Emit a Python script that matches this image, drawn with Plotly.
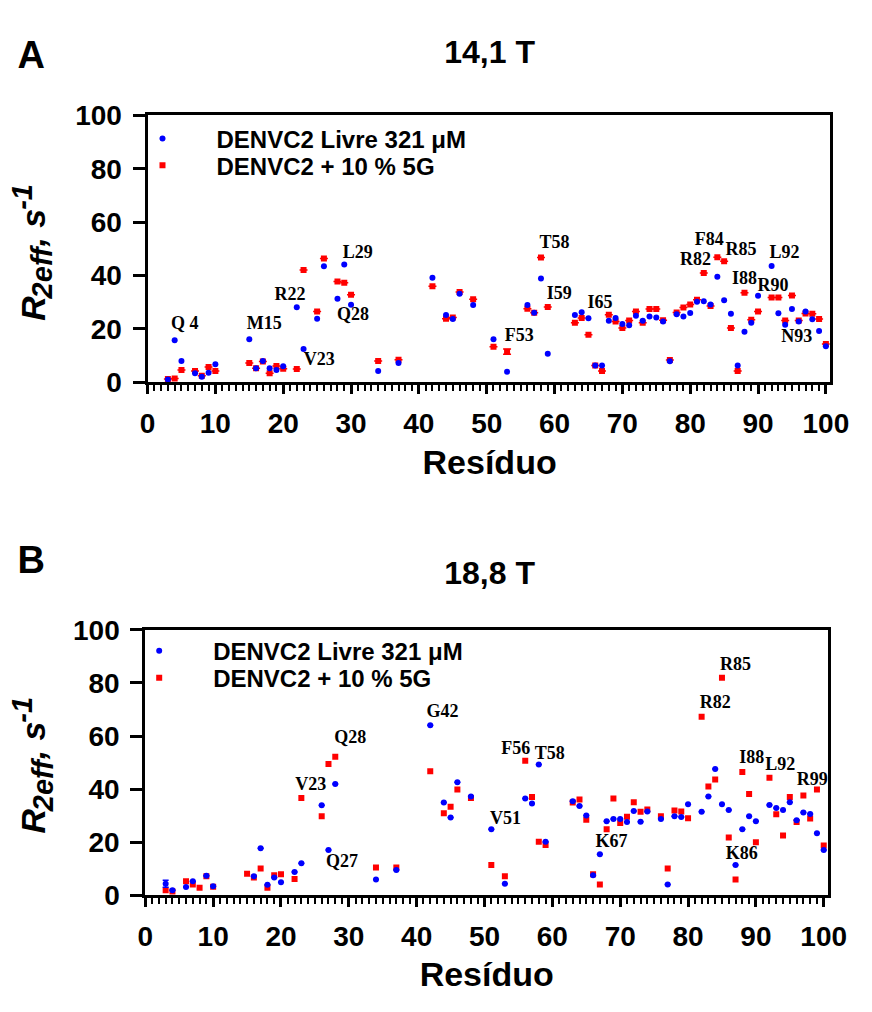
import plotly.graph_objects as go

# ---------------- Panel A (14,1 T) ----------------
res_A = [3, 4, 5, 7, 8, 9, 10, 15, 16, 17, 18, 19, 20, 22, 23, 25, 26, 28, 29, 30,
         34, 37, 42, 44, 45, 46, 48, 51, 53, 56, 57, 58, 59, 63, 64, 65, 66, 67, 68, 69,
         70, 71, 72, 73, 74, 75, 76, 77, 78, 79, 80, 81, 82, 83, 84, 85, 86, 87, 88, 89,
         90, 92, 93, 94, 95, 96, 97, 98, 99, 100]
livre_A = [1.1, 15.8, 8.0, 3.4, 2.1, 3.6, 6.8, 16.2, 5.3, 8.0, 5.3, 4.6, 6.0, 28.1, 12.5, 23.8, 43.5, 31.3, 44.1, 29.1,
           4.3, 7.3, 39.2, 25.2, 23.7, 33.2, 29.0, 16.2, 4.0, 29.0, 26.1, 38.9, 10.7, 25.2, 26.3, 24.0, 6.3, 6.3, 23.1, 24.1,
           21.9, 21.4, 25.0, 23.1, 24.7, 24.3, 22.8, 7.9, 25.5, 24.7, 26.0, 30.2, 30.4, 29.2, 39.6, 30.8, 25.7, 6.3, 19.0, 22.3,
           32.4, 43.6, 25.9, 21.6, 27.5, 22.8, 26.5, 23.6, 19.2, 13.5]
g5_A = [1.3, 1.5, 4.6, 4.3, 2.5, 5.8, 4.3, 7.3, 5.3, 7.8, 3.4, 6.1, 5.1, 5.0, 42.1, 26.5, 46.4, 37.8, 37.3, 32.8,
        8.0, 8.5, 36.0, 23.8, 24.3, 33.8, 31.1, 13.3, 11.5, 27.6, 26.1, 46.8, 28.2, 22.3, 24.1, 17.8, 6.3, 4.3, 25.3, 22.8,
        20.4, 23.2, 26.5, 22.3, 27.5, 27.5, 23.3, 8.4, 26.2, 28.0, 29.2, 30.9, 41.0, 28.6, 46.9, 45.4, 20.4, 4.3, 33.6, 23.5,
        26.5, 31.8, 31.8, 23.2, 32.5, 23.2, 25.8, 25.7, 23.7, 14.4]
g5_A_err = [None] * len(res_A)
g5_A_err[res_A.index(53)] = 1.0

labels_A = ["Q 4", "M15", "R22", "V23", "L29", "Q28", "F53", "T58", "I59", "I65",
            "F84", "R85", "R82", "I88", "R90", "L92", "N93"]
labels_A_x = [5.5, 17.2, 21.0, 25.3, 31.0, 30.3, 54.8, 60.0, 60.7, 66.7,
              82.8, 87.5, 80.8, 88.0, 92.2, 93.9, 95.7]
labels_A_y = [21.5, 21.5, 32.5, 8.1, 48.4, 25.2, 17.3, 52.0, 32.8, 29.5,
              53.0, 49.3, 45.7, 38.6, 35.9, 48.4, 16.7]

# ---------------- Panel B (18,8 T) ----------------
res_B = [3, 4, 6, 7, 8, 9, 10, 15, 16, 17, 18, 19, 20, 22, 23, 26, 27, 28,
         34, 37, 42, 44, 45, 46, 48, 51, 53, 56, 57, 58, 59, 63, 64, 65, 66, 67, 68, 69,
         70, 71, 72, 73, 74, 76, 77, 78, 79, 80, 82, 83, 84, 85, 86, 87, 88, 89,
         90, 92, 93, 94, 95, 96, 97, 98, 99, 100]
livre_B = [4.4, 2.0, 3.2, 5.4, None, 7.4, 3.5, None, 7.2, 17.8, 4.0, 6.8, 5.0, 8.8, 12.1, 34.0, 17.1, 42.0,
           6.0, 9.6, 64.1, 35.0, 29.4, 42.6, 37.3, 24.9, 4.4, 36.5, 34.6, 49.3, 20.2, 35.5, 33.7, 30.1, 7.6, 15.5, 27.9, 28.8,
           28.8, 27.7, 31.8, 27.8, 31.6, 28.8, 4.1, 29.8, 29.5, 34.3, 31.5, 37.3, 47.6, 34.3, 32.2, 11.5, 24.9, 29.8,
           27.9, 34.1, 32.9, 32.2, 35.1, 28.3, 31.2, 30.7, 23.4, 17.1]
g5_B = [2.0, 1.5, 5.4, 4.1, 2.9, 7.2, 3.3, 8.2, 6.8, 10.2, 2.9, 7.6, 8.0, 6.2, 36.7, 29.8, 49.5, 52.2,
        10.5, 10.5, 46.8, 31.0, 33.4, 39.9, 36.7, 11.5, 7.2, 50.7, 37.1, 20.2, 19.0, 35.0, 36.1, 28.5, 8.0, 4.1, 24.9, 36.5,
        27.3, 29.6, 35.1, 31.5, 32.4, 29.8, 10.2, 32.0, 31.6, 29.1, 67.3, 41.0, 43.7, 82.0, 21.8, 6.0, 46.5, 38.2,
        20.0, 44.3, 30.6, 22.6, 37.1, 27.7, 37.6, 29.0, 39.9, 18.8]
livre_B_err = [None] * len(res_B)
livre_B_err[res_B.index(3)] = 1.3

labels_B = ["Q28", "V23", "Q27", "G42", "F56", "T58", "V51", "K67",
            "R85", "R82", "I88", "L92", "R99", "K86"]
labels_B_x = [30.2, 24.4, 29.0, 43.8, 54.6, 59.6, 53.1, 68.7,
              87.0, 84.0, 89.4, 93.6, 98.3, 87.9]
labels_B_y = [59.0, 41.3, 12.4, 68.8, 55.1, 52.9, 28.5, 20.0,
              86.5, 72.2, 51.7, 49.0, 43.2, 15.4]

name_livre = "DENVC2 Livre 321 \u03bcM"
name_g5 = "DENVC2 + 10 % 5G"
panel_letters = ["A", "B"]
panel_titles = ["14,1 T", "18,8 T"]
x_title = "Resíduo"
# y title pieces: R, subscript 2eff, ", s", superscript -1
y_title_parts = ["R", "2eff", ", s", "-1"]

W, H = 872, 1012
SANS = "Liberation Sans, Arial, sans-serif"
SERIF = "Liberation Serif, Times New Roman, serif"
BLUE = "#0000FF"
RED = "#FF0000"

fig = go.Figure()

# Panel A traces (red first so blue is drawn on top)
fig.add_trace(go.Scatter(
    x=res_A, y=g5_A, mode="markers", name=name_g5,
    marker=dict(symbol="square", size=6, color=RED),
    error_y=dict(type="data", array=g5_A_err, visible=True, color=RED, thickness=1.5, width=4),
    xaxis="x", yaxis="y", legend="legend2"))
fig.add_trace(go.Scatter(
    x=res_A, y=livre_A, mode="markers", name=name_livre,
    marker=dict(symbol="circle", size=6, color=BLUE),
    xaxis="x", yaxis="y", legend="legend"))
fig.add_trace(go.Scatter(
    x=labels_A_x, y=labels_A_y, mode="text", text=labels_A,
    textfont=dict(family=SERIF, size=18, color="black", weight="bold"),
    xaxis="x", yaxis="y", showlegend=False, hoverinfo="skip"))

# Panel B traces
fig.add_trace(go.Scatter(
    x=res_B, y=g5_B, mode="markers", name=name_g5,
    marker=dict(symbol="square", size=6, color=RED),
    xaxis="x2", yaxis="y2", legend="legend4"))
fig.add_trace(go.Scatter(
    x=res_B, y=livre_B, mode="markers", name=name_livre,
    marker=dict(symbol="circle", size=6, color=BLUE),
    error_y=dict(type="data", array=livre_B_err, visible=True, color=BLUE, thickness=1.5, width=3),
    xaxis="x2", yaxis="y2", legend="legend3"))
fig.add_trace(go.Scatter(
    x=labels_B_x, y=labels_B_y, mode="text", text=labels_B,
    textfont=dict(family=SERIF, size=18, color="black", weight="bold"),
    xaxis="x2", yaxis="y2", showlegend=False, hoverinfo="skip"))

# Page-level texts (panel letters, titles, x titles) on an invisible full-page pixel axis
fig.add_trace(go.Scatter(
    x=[24, 24], y=[45, 566], mode="text", text=panel_letters,
    textfont=dict(family=SANS, size=38, color="black", weight="bold"),
    xaxis="x3", yaxis="y3", showlegend=False, hoverinfo="skip", cliponaxis=False))
fig.add_trace(go.Scatter(
    x=[497, 497], y=[41, 579], mode="text", text=panel_titles,
    textfont=dict(family=SANS, size=32, color="black", weight="bold"),
    xaxis="x3", yaxis="y3", showlegend=False, hoverinfo="skip", cliponaxis=False))
fig.add_trace(go.Scatter(
    x=[497, 494], y=[465, 993], mode="text", text=[x_title, x_title],
    textfont=dict(family=SANS, size=34, color="black", weight="bold"),
    xaxis="x3", yaxis="y3", showlegend=False, hoverinfo="skip", cliponaxis=False))

tickfont = dict(family=SANS, size=28, color="black", weight="bold")
xcommon = dict(showline=True, linewidth=3, linecolor="black", mirror=True,
               ticks="outside", ticklen=9, tickwidth=3, tickcolor="black",
               tick0=0, dtick=10, tickfont=tickfont, showgrid=False, zeroline=False,
               ticklabelstandoff=5,
               minor=dict(ticks="outside", ticklen=6, tickwidth=2, tickcolor="black", dtick=1, showgrid=False),
               fixedrange=True)
ycommon = dict(showline=True, linewidth=3, linecolor="black", mirror=True,
               ticks="outside", ticklen=12, tickwidth=3, tickcolor="black",
               tick0=0, dtick=20, range=[0, 100], tickfont=tickfont, showgrid=False,
               zeroline=False, ticklabelstandoff=5, fixedrange=True)


def px(xp):
    return xp / W


def py(yp):
    return 1 - yp / H


legend_common = dict(font=dict(family=SANS, size=24, color="black", weight="bold"),
                     bgcolor="rgba(0,0,0,0)", borderwidth=0, itemwidth=98,
                     xanchor="left", yanchor="top", itemclick=False, itemdoubleclick=False)

fig.update_layout(
    width=W, height=H, margin=dict(l=0, r=0, t=0, b=0),
    paper_bgcolor="white", plot_bgcolor="rgba(0,0,0,0)",
    xaxis=dict(domain=[px(144), px(848)], range=[0, 100.57], anchor="y", **xcommon),
    yaxis=dict(domain=[py(379), py(103.5)], anchor="x", **ycommon),
    xaxis2=dict(domain=[px(141.7), px(846.7)], range=[0, 100.7], anchor="y2", **xcommon),
    yaxis2=dict(domain=[py(908.3), py(634.3)], anchor="x2", **ycommon),
    xaxis3=dict(domain=[0, 1], range=[0, W], visible=False, anchor="y3", fixedrange=True),
    yaxis3=dict(domain=[0, 1], range=[H, 0], visible=False, anchor="x3", fixedrange=True),
    legend=dict(x=px(103.7), y=py(104.7), **legend_common),
    legend2=dict(x=px(103.7), y=py(132.3), **legend_common),
    legend3=dict(x=px(100.3), y=py(633), **legend_common),
    legend4=dict(x=px(100.3), y=py(661), **legend_common),
    showlegend=True,
)

# Rotated y-axis titles built from pieces (main size 34, sub/sup size 29)
F_MAIN, F_SMALL = 34, 29
part_sizes = [F_MAIN, F_SMALL, F_MAIN, F_SMALL]
part_dy = [57.6, 19.6, -25.1, -56.9]        # offsets along the rotated text (px)
part_x = [26.2, 36.0, 26.2, 15.0]           # baseline shifts for sub/superscript (px)
for yc in (245, 774):
    for txt, fs, dy, xx in zip(y_title_parts, part_sizes, part_dy, part_x):
        fig.add_annotation(xref="paper", yref="paper", showarrow=False,
                           xanchor="center", yanchor="middle", text=txt,
                           x=px(xx), y=py(yc + dy), textangle=-90,
                           font=dict(family=SANS, size=fs, color="black",
                                     weight="bold", style="italic"))

fig.write_html("out.html")
